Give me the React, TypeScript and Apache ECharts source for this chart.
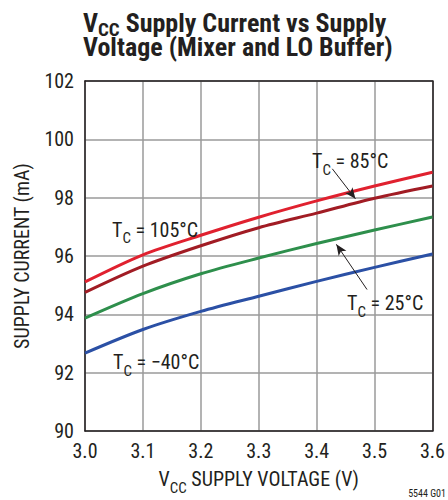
import React, { useEffect, useRef } from "react";
import * as echarts from "echarts";

const voltages = [3.0, 3.1, 3.2, 3.3, 3.4, 3.5, 3.6];
const t105 = [95.11, 96.04, 96.71, 97.33, 97.89, 98.4, 98.87];
const t85 = [94.75, 95.65, 96.35, 96.97, 97.47, 97.98, 98.4];
const t25 = [93.87, 94.71, 95.39, 95.93, 96.43, 96.89, 97.34];
const tm40 = [92.67, 93.48, 94.1, 94.62, 95.13, 95.61, 96.07];

const arrow85 = [[3.427, 98.99], [3.467, 97.96]];
const arrow25 = [[3.487, 94.85], [3.434, 96.4]];

const FONT = "'Liberation Sans Narrow', 'Arial Narrow', 'Roboto Condensed', 'Liberation Sans', sans-serif";
const INK = "#231f20";

const annRich = {
  m: { fontSize: 20, lineHeight: 20, verticalAlign: "top", fontFamily: FONT, fill: INK, color: INK },
  s: { fontSize: 15, lineHeight: 10, verticalAlign: "top", padding: [11, 0, 0, 0], fontFamily: FONT, fill: INK, color: INK },
};

function ann(text: string, x: number, capCenter: number) {
  return {
    type: "text",
    x,
    y: capCenter - 10,
    z: 100,
    style: { text, rich: annRich, verticalAlign: "top", align: "left", fontFamily: FONT, fill: INK },
  };
}

const titleRich = {
  m: { fontSize: 26, fontWeight: "bold", lineHeight: 24, verticalAlign: "top", fontFamily: FONT, fill: INK, color: INK },
  s: { fontSize: 19, fontWeight: "bold", lineHeight: 14, verticalAlign: "top", padding: [10, 0, 0, 0], fontFamily: FONT, fill: INK, color: INK },
};

export default function App() {
  const ref = useRef<HTMLDivElement>(null);
  useEffect(() => {
    if (!ref.current) return;
    const chart = echarts.init(ref.current, null, { renderer: "svg" });
    const pair = (xs: number[], ys: number[]) => xs.map((x, i) => [x, ys[i]]);
    const mk = (name: string, ys: number[], color: string, arrow?: number[][]) => ({
      type: "line",
      name,
      data: pair(voltages, ys),
      smooth: 0.3,
      symbol: "none",
      lineStyle: { color, width: 3 },
      itemStyle: { color },
      markLine: arrow
        ? {
            silent: true,
            symbol: ["none", "arrow"],
            symbolSize: [7, 11],
            label: { show: false },
            lineStyle: { color: INK, width: 1, type: "solid" },
            itemStyle: { color: INK },
            data: [[{ coord: arrow[0] }, { coord: arrow[1] }]],
          }
        : undefined,
    });
    const axisLabel = { fontFamily: FONT, fontSize: 20, color: INK };
    chart.setOption({
      animation: false,
      textStyle: { fontFamily: FONT },
      grid: { left: 85, right: 8, top: 81, bottom: 64 },
      xAxis: [
        {
          type: "value",
          min: 3.0,
          max: 3.6,
          interval: 0.1,
          axisLine: { show: true, lineStyle: { color: INK, width: 1.5 } },
          axisTick: { show: false },
          axisLabel: { ...axisLabel, margin: 10, formatter: (v: number) => v.toFixed(1) },
          splitLine: { show: true, lineStyle: { color: "#9a9a9a", width: 1.5 } },
          name: "{m|V}{s|CC}{m| SUPPLY VOLTAGE (V)}",
          nameLocation: "middle",
          nameGap: 38,
          nameTextStyle: {
            rich: {
              m: { fontSize: 20, lineHeight: 20, verticalAlign: "top", fontFamily: FONT, color: INK },
              s: { fontSize: 15, lineHeight: 10, verticalAlign: "top", padding: [11, 0, 0, 0], fontFamily: FONT, color: INK },
            },
          },
        },
        {
          type: "value",
          position: "top",
          min: 3.0,
          max: 3.6,
          interval: 0.1,
          axisLine: { show: true, onZero: false, lineStyle: { color: INK, width: 1.5 } },
          axisTick: { show: false },
          axisLabel: { show: false },
          splitLine: { show: false },
        },
      ],
      yAxis: [
        {
          type: "value",
          min: 90,
          max: 102,
          interval: 2,
          axisLine: { show: true, onZero: false, lineStyle: { color: INK, width: 1.5 } },
          axisTick: { show: false },
          axisLabel: { ...axisLabel, margin: 11 },
          splitLine: { show: true, lineStyle: { color: "#9a9a9a", width: 1.5 } },
          name: "SUPPLY CURRENT (mA)",
          nameLocation: "middle",
          nameGap: 53,
          nameTextStyle: { fontFamily: FONT, fontSize: 20, color: INK },
        },
        {
          type: "value",
          position: "right",
          min: 90,
          max: 102,
          interval: 2,
          axisLine: { show: true, onZero: false, lineStyle: { color: INK, width: 1.5 } },
          axisTick: { show: false },
          axisLabel: { show: false },
          splitLine: { show: false },
        },
      ],
      series: [
        mk("TC = -40°C", tm40, "#2b50a5"),
        mk("TC = 25°C", t25, "#2e8f4c", arrow25),
        mk("TC = 85°C", t85, "#a11c24", arrow85),
        mk("TC = 105°C", t105, "#e0212f"),
      ],
      graphic: [
        {
          type: "text",
          x: 83,
          y: 10,
          style: {
            text: "{m|V}{s|CC}{m| Supply Current vs Supply}\n{m|Voltage (Mixer and LO Buffer)}",
            rich: titleRich,
            verticalAlign: "top",
            fontFamily: FONT,
            fill: INK,
          },
        },
        ann("{m|T}{s|C}{m| = 85°C}", 312, 161),
        ann("{m|T}{s|C}{m| = 105°C}", 112, 229.7),
        ann("{m|T}{s|C}{m| = 25°C}", 347, 303),
        ann("{m|T}{s|C}{m| = −40°C}", 113, 362),
        {
          type: "text",
          x: 446,
          y: 493,
          style: { text: "5544 G01", fontSize: 10, fontFamily: FONT, fill: INK, align: "right", verticalAlign: "middle" },
        },
      ],
    });
    return () => chart.dispose();
  }, []);
  return (
    <div
      ref={ref}
      style={{ position: "absolute", left: 0, top: 0, width: 448, height: 500 }}
    />
  );
}
